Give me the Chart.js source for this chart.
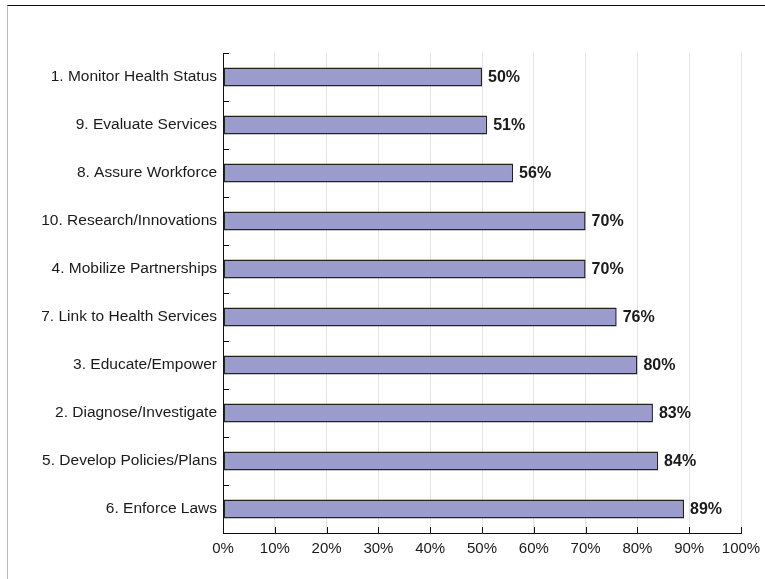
<!DOCTYPE html>
<html>
<head>
<meta charset="utf-8">
<script src="https://cdn.jsdelivr.net/npm/chart.js@4.4.0/dist/chart.umd.min.js"></script>
<style>
  html, body { margin: 0; padding: 0; background: #fff; }
  #frame { position: absolute; left: 7px; top: 5px; width: 758px; height: 574px;
           border-top: 1px solid #111; border-left: 1px solid #b8b8b8; box-sizing: border-box; }
  #wrap { position: absolute; left: 0; top: 0; width: 765px; height: 579px; }
</style>
</head>
<body>
<div id="frame"></div>
<div id="wrap"><canvas id="chart" width="765" height="579"></canvas></div>
<script>
// essential services, ordered as in the picture
var services = [
  '1. Monitor Health Status',
  '9. Evaluate Services',
  '8. Assure Workforce',
  '10. Research/Innovations',
  '4. Mobilize Partnerships',
  '7. Link to Health Services',
  '3. Educate/Empower',
  '2. Diagnose/Investigate',
  '5. Develop Policies/Plans',
  '6. Enforce Laws'
];
var scores = [50, 51, 56, 70, 70, 76, 80, 83, 84, 89];
var xTicks = [0, 10, 20, 30, 40, 50, 60, 70, 80, 90, 100];

var FONT = '"Liberation Sans", Arial, sans-serif';

// small tick marks drawn inside the plot, and value labels at bar ends
var extras = {
  id: 'extras',
  afterDatasetsDraw: function(chart) {
    var c = chart.ctx;
    var area = chart.chartArea;
    var y = chart.scales.y;
    var x = chart.scales.x;
    c.save();
    c.strokeStyle = '#111';
    c.lineWidth = 1;
    c.beginPath();
    for (var i = 0; i <= services.length; i++) {
      var py = Math.round(y.getPixelForValue(i - 0.5)) + 0.5;
      c.moveTo(area.left, py);
      c.lineTo(area.left + 6, py);
    }
    for (var j = 1; j < xTicks.length; j++) {
      var px = Math.round(x.getPixelForValue(xTicks[j])) + 0.5;
      c.moveTo(px, area.bottom);
      c.lineTo(px, area.bottom - 6);
    }
    c.stroke();

    c.fillStyle = '#1a1a1a';
    c.font = 'bold 16px ' + FONT;
    c.textBaseline = 'middle';
    c.textAlign = 'left';
    var meta = chart.getDatasetMeta(0);
    meta.data.forEach(function(bar, k) {
      c.fillText(scores[k] + '%', bar.x + 6, bar.y + 1);
    });
    c.restore();
  }
};

var ctx = document.getElementById('chart').getContext('2d');
var chart = new Chart(ctx, {
  type: 'bar',
  data: {
    labels: services,
    datasets: [{
      data: scores,
      backgroundColor: '#9b9bcc',
      borderColor: '#222',
      borderWidth: 1.5,
      borderSkipped: false,
      barPercentage: 0.4,
      categoryPercentage: 1
    }]
  },
  options: {
    indexAxis: 'y',
    responsive: false,
    animation: false,
    layout: { padding: { top: 53, right: 24, left: 0, bottom: 0 } },
    plugins: { legend: { display: false }, tooltip: { enabled: false } },
    scales: {
      x: {
        min: 0,
        max: 100,
        afterBuildTicks: function(scale) {
          scale.ticks = xTicks.map(function(v) { return { value: v }; });
        },
        afterFit: function(scale) {
          scale.height = 46;
          scale.paddingLeft = 0;
          scale.paddingRight = 0;
        },
        ticks: {
          color: '#1a1a1a',
          font: { family: FONT, size: 15 },
          padding: 7,
          maxRotation: 0,
          callback: function(v) { return v + '%'; }
        },
        grid: { color: '#e4e4e4', drawTicks: false },
        border: { color: '#111', width: 1 }
      },
      y: {
        afterFit: function(scale) { scale.width = 223; },
        ticks: {
          color: '#1a1a1a',
          font: { family: FONT, size: 15.5 },
          padding: 6
        },
        grid: { display: false, drawTicks: false },
        border: { color: '#111', width: 1 }
      }
    }
  },
  plugins: [extras]
});
</script>
</body>
</html>
